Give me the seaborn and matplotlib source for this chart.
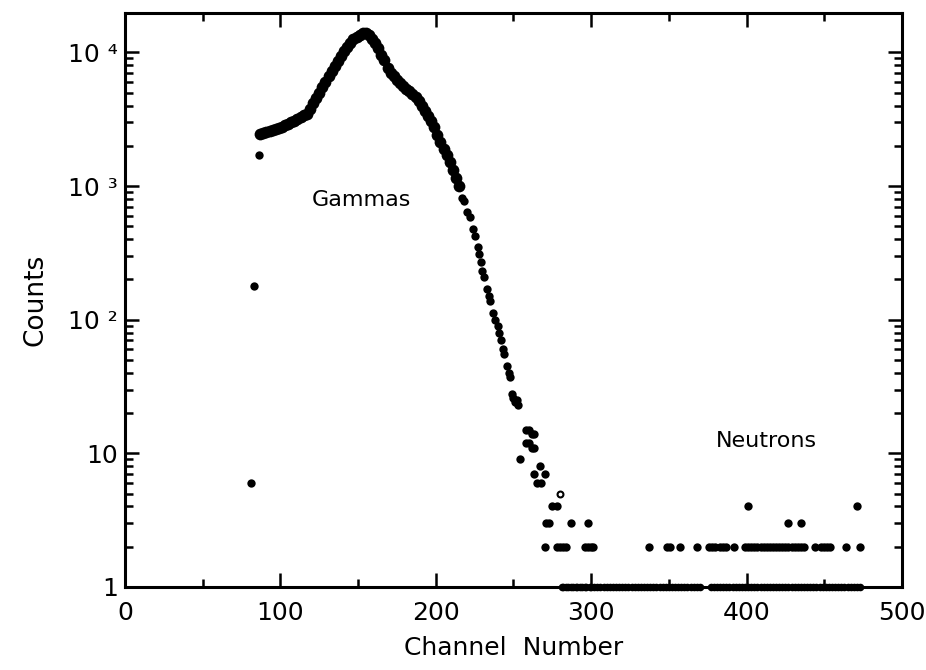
import numpy as np
import pandas as pd
import matplotlib
matplotlib.use("Agg")
import matplotlib.pyplot as plt
import matplotlib.ticker as mticker
import seaborn as sns

# ---------------- data ----------------
# leading isolated points
lead_channels = [81, 83, 86]
lead_counts = [6, 180, 1700]

# main gamma peak (dense, merges into a thick curve)
peak_channels = [87, 89, 91, 93, 95, 97, 99, 101, 103, 105, 107, 109, 111, 113,
                 115, 117, 119, 121, 123, 125, 127, 129, 131, 133, 135, 137, 139,
                 141, 143, 145, 147, 149, 151, 153, 155, 157, 159, 161, 163, 165,
                 167, 169, 171, 173, 175, 177, 179, 181, 183, 185, 187, 189, 191,
                 193, 195, 197, 199, 201, 203, 205, 207, 209, 211, 213, 215]
peak_counts = [2450, 2500, 2540, 2580, 2620, 2680, 2720, 2780, 2840, 2920, 3000,
               3080, 3180, 3280, 3380, 3450, 3800, 4150, 4550, 5000, 5500, 6000,
               6600, 7200, 7900, 8600, 9400, 10200, 11000, 11800, 12500, 13100,
               13600, 13900, 14000, 13600, 12700, 11800, 10700, 9600, 8700, 7700,
               7000, 6600, 6200, 5900, 5600, 5350, 5100, 4850, 4600, 4300, 3950,
               3650, 3350, 3050, 2750, 2400, 2150, 1900, 1700, 1500, 1320, 1150,
               1000]

# falling tail of the gamma distribution
tail_channels = [217, 218, 220, 222, 224, 225, 227, 228, 229, 230, 231, 233, 234,
                 235, 237, 238, 240, 241, 242, 243, 244, 246, 247, 248, 249, 250,
                 251, 252, 253, 254, 258, 260, 262, 263, 258, 260, 262, 263, 267,
                 263, 270, 265, 268, 275, 278, 271, 273, 287, 298, 270, 278, 280,
                 282, 284, 296, 298, 300, 301]
tail_counts = [820, 770, 640, 590, 480, 420, 350, 310, 270, 230, 210, 170, 150,
               138, 112, 100, 89, 80, 71, 60, 55, 45, 40, 37, 28, 26, 24, 25, 23,
               9, 15, 15, 14, 14, 12, 12, 11, 11, 8, 7, 7, 6, 6, 4, 4, 3, 3, 3, 3,
               2, 2, 2, 2, 2, 2, 2, 2, 2]

# hollow point
hollow_channels = [280]
hollow_counts = [5]

# neutron region
neutron_channels = [337, 349, 351, 357, 368, 376, 378, 380, 383, 385, 387, 392,
                    399, 401, 403, 405, 407, 409, 411, 413, 415, 417, 419, 421,
                    423, 425, 427, 429, 431, 433, 435, 437, 444, 448, 450, 452,
                    454, 464, 473, 427, 435, 401, 471]
neutron_counts = [2] * 39 + [3, 3, 4, 4]

# single counts lying on the bottom axis
floor_channels = [281, 282, 284, 285, 287, 288, 290, 291, 293, 294, 296, 297,
                  299, 300, 302, 304, 306, 308, 310, 312, 314, 316, 318, 320,
                  322, 324, 326, 328, 330, 332, 334, 336, 338, 340, 342, 344,
                  346, 348, 350, 352, 354, 356, 358, 360, 362, 364, 366, 368,
                  370, 377, 379, 381, 383, 385, 387, 389, 391, 393, 395, 397,
                  399, 401, 403, 405, 407, 409, 411, 413, 415, 417, 419, 421,
                  423, 425, 427, 429, 431, 433, 435, 437, 439, 441, 443, 445,
                  447, 449, 451, 453, 455, 457, 459, 461, 463, 465, 467, 469,
                  471, 473]
floor_counts = [1] * len(floor_channels)

ytick_vals = [1, 10, 100, 1000, 10000]
ytick_labels = ["1", "10", "10 \u00b2", "10 \u00b3", "10 \u2074"]
xtick_vals = [0, 100, 200, 300, 400, 500]

# ---------------- plotting ----------------
sns.set_style("ticks")
plt.rcParams["font.family"] = ["DejaVu Sans"]
plt.rcParams["text.color"] = "black"
plt.rcParams["axes.labelcolor"] = "black"
plt.rcParams["xtick.color"] = "black"
plt.rcParams["ytick.color"] = "black"

df_iso = pd.DataFrame({
    "channel": lead_channels + tail_channels + neutron_channels,
    "counts": lead_counts + tail_counts + neutron_counts,
})
df_peak = pd.DataFrame({"channel": peak_channels, "counts": peak_counts})
df_floor = pd.DataFrame({"channel": floor_channels, "counts": floor_counts})
df_hollow = pd.DataFrame({"channel": hollow_channels, "counts": hollow_counts})

fig = plt.figure(figsize=(9.26, 6.70), dpi=100)
ax = fig.add_axes([0.135, 0.124, 0.839, 0.857])

sns.scatterplot(data=df_peak, x="channel", y="counts", ax=ax, color="black",
                s=72, linewidth=0, legend=False)
sns.scatterplot(data=df_iso, x="channel", y="counts", ax=ax, color="black",
                s=36, linewidth=0, legend=False)
sns.scatterplot(data=df_floor, x="channel", y="counts", ax=ax, color="black",
                s=30, linewidth=0, legend=False, clip_on=False)
sns.scatterplot(data=df_hollow, x="channel", y="counts", ax=ax,
                facecolor="white", edgecolor="black", s=18, linewidth=1.5,
                legend=False)

ax.set_yscale("log")
ax.set_xlim(0, 500)
ax.set_ylim(1, 19800)

ax.set_xticks(xtick_vals)
ax.xaxis.set_minor_locator(mticker.MultipleLocator(50))
ax.set_yticks(ytick_vals)
ax.set_yticklabels(ytick_labels)
ax.yaxis.set_minor_locator(mticker.LogLocator(base=10, subs=np.arange(2, 10)))
ax.yaxis.set_minor_formatter(mticker.NullFormatter())

ax.tick_params(axis="both", which="both", direction="in", top=True, right=True,
               width=1.8, color="black", labelsize=18, labelcolor="black")
ax.tick_params(axis="x", which="both", pad=10)
ax.tick_params(axis="y", which="both", pad=5)
ax.tick_params(axis="both", which="major", length=10)
ax.tick_params(axis="both", which="minor", length=6)
for sp in ax.spines.values():
    sp.set_visible(True)
    sp.set_linewidth(2.2)
    sp.set_color("black")

ax.set_xlabel("Channel  Number", fontsize=18, labelpad=8, color="black")
ax.set_ylabel("Counts", fontsize=19, labelpad=14, color="black")

ax.text(152, 790, "Gammas", fontsize=16, ha="center", va="center", color="black")
ax.text(413, 12.3, "Neutrons", fontsize=16, ha="center", va="center", color="black")

fig.savefig("out.png", dpi=100)
